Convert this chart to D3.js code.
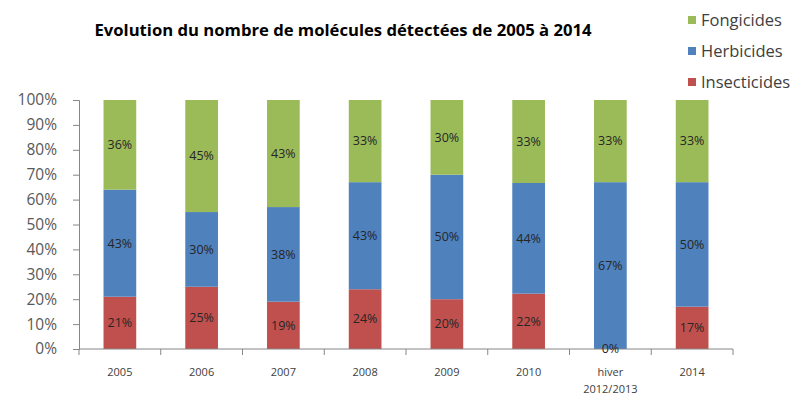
<!DOCTYPE html>
<html>
<head>
<meta charset="utf-8">
<script src="https://cdn.jsdelivr.net/npm/d3@7"></script>
<style>
  html, body { margin: 0; padding: 0; background: #fff; }
  svg { display: block; }
  text { font-family: "Open Sans", "DejaVu Sans", sans-serif; }
</style>
</head>
<body>
<svg id="chart" width="803" height="396"></svg>
<script>
// Share of detected molecules per pesticide family, by campaign
const categories = ["2005", "2006", "2007", "2008", "2009", "2010", "hiver 2012/2013", "2014"];
const insecticides = [21, 25, 19, 24, 20, 22, 0, 17];
const herbicides   = [43, 30, 38, 43, 50, 44, 67, 50];
const fongicides   = [36, 45, 43, 33, 30, 33, 33, 33];
const seriesNames  = ["Insecticides", "Herbicides", "Fongicides"];
const seriesColors = ["#C0504D", "#4F81BD", "#9BBB59"];
const titleText = "Evolution du nombre de molécules détectées de 2005 à 2014";

const svg = d3.select("#chart");

const margin = { left: 79, right: 70, top: 100, bottom: 47 };
const W = 803, H = 396;

const rows = categories.map((c, i) => ({
  cat: c,
  Insecticides: insecticides[i],
  Herbicides: herbicides[i],
  Fongicides: fongicides[i]
}));

const stack = d3.stack().keys(seriesNames).offset(d3.stackOffsetExpand);
const layers = stack(rows);

const x = d3.scaleBand()
  .domain(categories)
  .range([margin.left, W - margin.right])
  .paddingInner(0.6)
  .paddingOuter(0.3);

const y = d3.scaleLinear()
  .domain([0, 1])
  .range([H - margin.bottom, margin.top]);

const color = d3.scaleOrdinal().domain(seriesNames).range(seriesColors);

// Bars
const g = svg.append("g");
layers.forEach(layer => {
  g.append("g")
    .attr("fill", color(layer.key))
    .selectAll("rect")
    .data(layer)
    .join("rect")
      .attr("x", d => x(d.data.cat))
      .attr("width", x.bandwidth())
      .attr("y", d => y(d[1]))
      .attr("height", d => y(d[0]) - y(d[1]));
});

// Y axis
const yAxis = svg.append("g")
  .attr("transform", `translate(${margin.left},0)`)
  .call(d3.axisLeft(y).ticks(10).tickFormat(d3.format(".0%")).tickSize(6).tickPadding(16));
yAxis.select(".domain").attr("stroke", "#868686");
yAxis.selectAll(".tick line").attr("stroke", "#868686");
yAxis.selectAll(".tick text")
  .attr("fill", "#595959")
  .style("font-size", "15.5px")
  .style("font-family", "'Open Sans', sans-serif");

// X axis: baseline plus boundary ticks between categories
const step = x.step();
const x0 = margin.left;
const xAxisG = svg.append("g").attr("transform", `translate(0,${y(0)})`);
xAxisG.append("line")
  .attr("x1", x0).attr("x2", W - margin.right)
  .attr("stroke", "#868686");
xAxisG.selectAll("line.b")
  .data(d3.range(categories.length + 1))
  .join("line")
    .attr("class", "b")
    .attr("x1", i => x0 + i * step)
    .attr("x2", i => x0 + i * step)
    .attr("y1", 0).attr("y2", 6)
    .attr("stroke", "#868686");

// X category labels (wrapped on spaces)
xAxisG.selectAll("text.cat")
  .data(categories)
  .join("text")
    .attr("class", "cat")
    .attr("text-anchor", "middle")
    .attr("fill", "#404040")
    .style("font-size", "11px")
    .each(function(c) {
      const parts = c.split(" ");
      const t = d3.select(this);
      parts.forEach((p, k) => {
        t.append("tspan")
          .attr("x", x(c) + x.bandwidth() / 2)
          .attr("y", 27 + k * 17)
          .text(p);
      });
    });

// Data labels centred in each segment
layers.forEach((layer, li) => {
  const vals = [insecticides, herbicides, fongicides][li];
  svg.append("g")
    .selectAll("text")
    .data(layer)
    .join("text")
      .attr("x", d => x(d.data.cat) + x.bandwidth() / 2)
      .attr("y", d => (y(d[0]) + y(d[1])) / 2)
      .attr("dy", "0.35em")
      .attr("text-anchor", "middle")
      .attr("fill", "#262626")
      .style("font-size", "12.5px")
      .text((d, i) => vals[i] + "%");
});

// Title
svg.append("text")
  .attr("x", 343)
  .attr("y", 36)
  .attr("text-anchor", "middle")
  .attr("fill", "#000")
  .attr("textLength", 497)
  .attr("lengthAdjust", "spacingAndGlyphs")
  .style("font-size", "15.5px")
  .style("font-weight", "bold")
  .text(titleText);

// Legend (top to bottom: Fongicides, Herbicides, Insecticides)
const legendItems = seriesNames.slice().reverse();
const legend = svg.append("g").attr("transform", "translate(688,0)");
legendItems.forEach((name, i) => {
  const cy = 20 + i * 31;
  legend.append("rect")
    .attr("x", 0).attr("y", cy - 4)
    .attr("width", 8).attr("height", 8)
    .attr("fill", color(name));
  legend.append("text")
    .attr("x", 13).attr("y", cy)
    .attr("dy", "0.35em")
    .attr("fill", "#404040")
    .style("font-size", "16.5px")
    .text(name);
});
</script>
</body>
</html>
